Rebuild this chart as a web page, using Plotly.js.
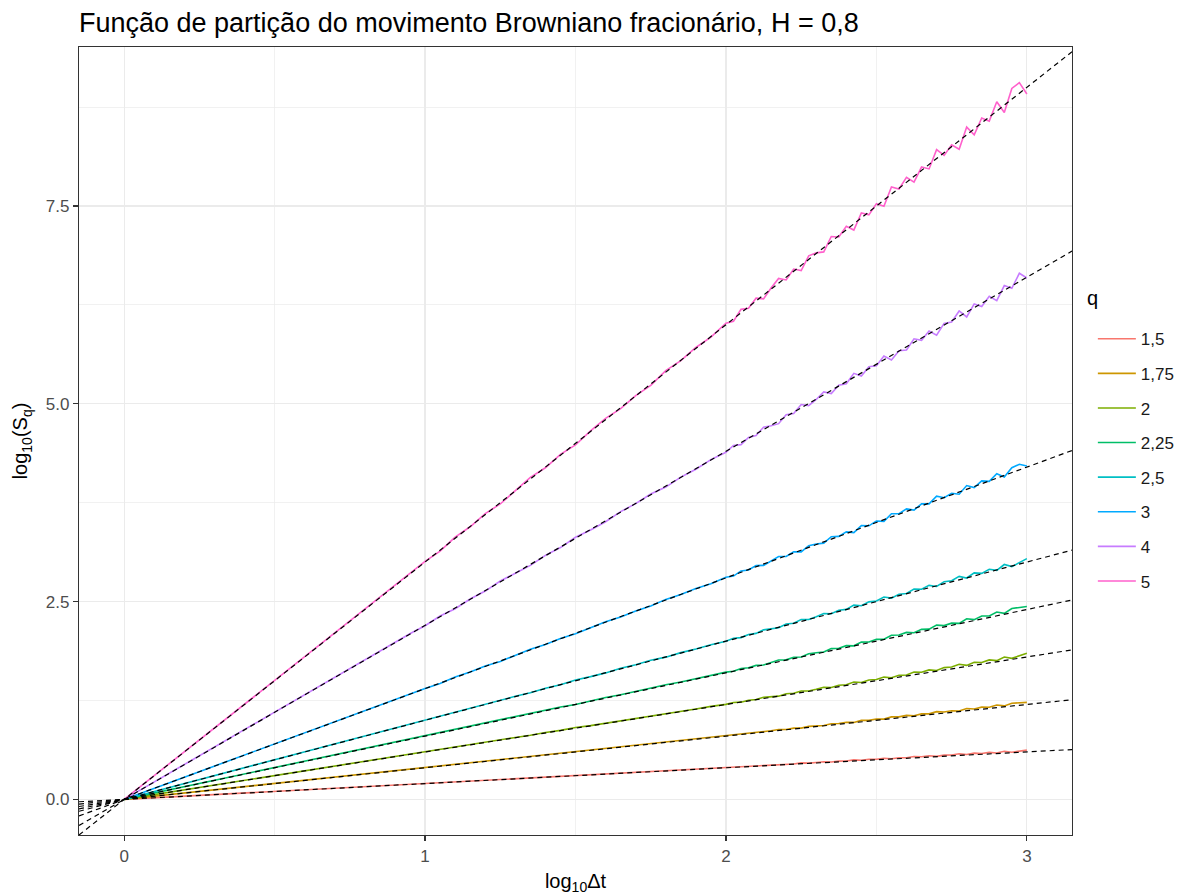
<!DOCTYPE html>
<html>
<head>
<meta charset="utf-8">
<script src="https://cdn.plot.ly/plotly-3.0.1.min.js"></script>
<style>
  html, body { margin: 0; padding: 0; background: #ffffff; }
  #chart { width: 1192px; height: 895px; }
</style>
</head>
<body>
<div id="chart"></div>
<script>
// log10 of the time lag Δt
const logDt = [
  0, 0.301, 0.477, 0.602, 0.699, 0.778, 0.845, 0.903, 0.954,
  1.0, 1.05, 1.1, 1.15, 1.2, 1.25, 1.3, 1.35, 1.4, 1.45,
  1.5, 1.55, 1.6, 1.65, 1.7, 1.75, 1.8, 1.85, 1.9, 1.95,
  2.0, 2.025, 2.05, 2.075, 2.1, 2.125, 2.15, 2.175, 2.2, 2.225,
  2.25, 2.275, 2.3, 2.325, 2.35, 2.375, 2.4, 2.425, 2.45, 2.475,
  2.5, 2.525, 2.55, 2.575, 2.6, 2.625, 2.65, 2.675, 2.7, 2.725,
  2.75, 2.775, 2.8, 2.825, 2.85, 2.875, 2.9, 2.925, 2.95, 2.975, 3.0
];

// Moment orders q (legend labels)
const qLabels = ['1,5', '1,75', '2', '2,25', '2,5', '3', '4', '5'];

// log10(S_q) for each q
const logSq_1_5 = [
  0, 0.061, 0.096, 0.121, 0.141, 0.157, 0.170, 0.182, 0.192,
  0.201, 0.213, 0.220, 0.232, 0.241, 0.254, 0.262, 0.270, 0.283, 0.291,
  0.304, 0.311, 0.320, 0.333, 0.342, 0.354, 0.360, 0.372, 0.381, 0.393,
  0.400, 0.410, 0.409, 0.419, 0.421, 0.433, 0.433, 0.435, 0.448, 0.448,
  0.461, 0.458, 0.466, 0.476, 0.472, 0.484, 0.485, 0.499, 0.494, 0.507,
  0.507, 0.521, 0.514, 0.526, 0.526, 0.542, 0.539, 0.551, 0.544, 0.560,
  0.562, 0.576, 0.567, 0.585, 0.580, 0.594, 0.587, 0.608, 0.597, 0.609, 0.623
];
const logSq_1_75 = [
  0, 0.121, 0.192, 0.242, 0.281, 0.313, 0.339, 0.363, 0.383,
  0.404, 0.421, 0.445, 0.462, 0.485, 0.501, 0.524, 0.546, 0.562, 0.585,
  0.600, 0.624, 0.645, 0.661, 0.684, 0.701, 0.726, 0.742, 0.765, 0.782,
  0.805, 0.810, 0.829, 0.833, 0.849, 0.850, 0.867, 0.883, 0.883, 0.901,
  0.901, 0.923, 0.930, 0.934, 0.957, 0.959, 0.976, 0.973, 0.999, 0.999,
  1.016, 1.015, 1.043, 1.043, 1.062, 1.058, 1.081, 1.081, 1.109, 1.104,
  1.120, 1.118, 1.149, 1.142, 1.166, 1.165, 1.193, 1.182, 1.216, 1.217, 1.226
];
const logSq_2 = [
  0, 0.183, 0.288, 0.364, 0.422, 0.470, 0.511, 0.546, 0.577,
  0.602, 0.636, 0.661, 0.695, 0.722, 0.757, 0.783, 0.810, 0.846, 0.872,
  0.908, 0.932, 0.961, 0.996, 1.023, 1.057, 1.080, 1.115, 1.142, 1.176,
  1.201, 1.225, 1.229, 1.254, 1.262, 1.290, 1.297, 1.305, 1.335, 1.342,
  1.371, 1.371, 1.392, 1.417, 1.415, 1.443, 1.450, 1.484, 1.478, 1.509,
  1.515, 1.546, 1.538, 1.568, 1.573, 1.609, 1.607, 1.637, 1.629, 1.666,
  1.673, 1.708, 1.694, 1.734, 1.730, 1.763, 1.754, 1.800, 1.783, 1.812, 1.846
];
const logSq_2_25 = [
  0, 0.243, 0.385, 0.486, 0.563, 0.627, 0.681, 0.729, 0.769,
  0.807, 0.842, 0.889, 0.924, 0.968, 1.001, 1.046, 1.090, 1.123, 1.168,
  1.200, 1.247, 1.289, 1.322, 1.366, 1.401, 1.450, 1.484, 1.528, 1.563,
  1.609, 1.619, 1.655, 1.664, 1.694, 1.699, 1.731, 1.761, 1.764, 1.796,
  1.799, 1.840, 1.854, 1.863, 1.906, 1.911, 1.943, 1.941, 1.988, 1.990,
  2.023, 2.024, 2.075, 2.078, 2.111, 2.107, 2.149, 2.152, 2.203, 2.197,
  2.228, 2.225, 2.283, 2.272, 2.318, 2.318, 2.369, 2.351, 2.413, 2.425, 2.438
];
const logSq_2_5 = [
  0, 0.302, 0.479, 0.605, 0.703, 0.783, 0.851, 0.910, 0.962,
  1.002, 1.058, 1.099, 1.155, 1.200, 1.259, 1.303, 1.348, 1.406, 1.450,
  1.510, 1.552, 1.599, 1.658, 1.703, 1.759, 1.798, 1.855, 1.900, 1.956,
  1.999, 2.037, 2.045, 2.085, 2.098, 2.143, 2.154, 2.169, 2.216, 2.227,
  2.274, 2.274, 2.308, 2.349, 2.346, 2.390, 2.402, 2.456, 2.448, 2.497,
  2.507, 2.558, 2.544, 2.593, 2.602, 2.659, 2.657, 2.705, 2.692, 2.752,
  2.764, 2.819, 2.798, 2.863, 2.857, 2.908, 2.895, 2.969, 2.942, 2.989, 3.043
];
const logSq_3 = [
  0, 0.423, 0.671, 0.846, 0.984, 1.093, 1.189, 1.268, 1.342,
  1.403, 1.466, 1.546, 1.609, 1.685, 1.744, 1.822, 1.898, 1.957, 2.035,
  2.093, 2.173, 2.246, 2.306, 2.382, 2.444, 2.528, 2.589, 2.665, 2.727,
  2.808, 2.823, 2.888, 2.899, 2.955, 2.958, 3.017, 3.070, 3.070, 3.129,
  3.129, 3.206, 3.228, 3.239, 3.320, 3.324, 3.382, 3.372, 3.460, 3.458,
  3.518, 3.514, 3.611, 3.610, 3.672, 3.657, 3.736, 3.735, 3.832, 3.813,
  3.870, 3.858, 3.967, 3.941, 4.026, 4.020, 4.116, 4.076, 4.193, 4.236, 4.215
];
const logSq_4 = [
  0, 0.665, 1.054, 1.330, 1.543, 1.719, 1.864, 1.995, 2.104,
  2.195, 2.318, 2.410, 2.533, 2.633, 2.760, 2.858, 2.958, 3.085, 3.183,
  3.313, 3.405, 3.510, 3.638, 3.738, 3.860, 3.948, 4.073, 4.173, 4.295,
  4.388, 4.474, 4.484, 4.575, 4.598, 4.705, 4.722, 4.749, 4.861, 4.878,
  4.991, 4.977, 5.055, 5.150, 5.129, 5.236, 5.253, 5.385, 5.350, 5.468,
  5.482, 5.604, 5.553, 5.671, 5.680, 5.822, 5.802, 5.920, 5.868, 6.017,
  6.035, 6.174, 6.098, 6.263, 6.229, 6.358, 6.304, 6.495, 6.460, 6.650, 6.590
];
const logSq_5 = [
  0, 0.906, 1.437, 1.812, 2.105, 2.341, 2.545, 2.716, 2.873,
  3.008, 3.138, 3.316, 3.446, 3.612, 3.734, 3.904, 4.070, 4.192, 4.362,
  4.480, 4.658, 4.816, 4.938, 5.104, 5.234, 5.420, 5.546, 5.712, 5.842,
  6.020, 6.044, 6.194, 6.208, 6.335, 6.326, 6.463, 6.584, 6.566, 6.703,
  6.685, 6.870, 6.908, 6.920, 7.115, 7.108, 7.243, 7.196, 7.413, 7.388,
  7.529, 7.497, 7.740, 7.715, 7.862, 7.801, 7.993, 7.969, 8.213, 8.140,
  8.274, 8.217, 8.498, 8.401, 8.613, 8.573, 8.818, 8.682, 8.986, 9.060, 8.916
];

// Fitted power-law lines: log10(S_q) = intercept + slope * log10(Δt)
const fitSlope = [0.2, 0.4, 0.6, 0.8, 1.0, 1.4, 2.2, 3.0];
const fitIntercept = [0, 0, 0, 0, 0, 0, 0, 0];

// Axis tick labels
const xTickVals = [0, 1, 2, 3];
const xTickText = ['0', '1', '2', '3'];
const yTickVals = [0, 2.5, 5, 7.5];
const yTickText = ['0.0', '2.5', '5.0', '7.5'];

const series = [logSq_1_5, logSq_1_75, logSq_2, logSq_2_25, logSq_2_5, logSq_3, logSq_4, logSq_5];
const palette = ['#F8766D', '#CD9600', '#7CAE00', '#00BE67', '#00BFC4', '#00A9FF', '#C77CFF', '#FF61CC'];

const xRange = [-0.15, 3.15];
const yRange = [-0.45, 9.51];

const traces = [];
series.forEach((ys, i) => {
  traces.push({
    type: 'scatter',
    mode: 'lines',
    x: logDt,
    y: ys,
    name: qLabels[i],
    legendgroup: 'q' + i,
    line: { color: palette[i], width: 1.6 },
    hoverinfo: 'x+y+name'
  });
});

// dashed reference lines across the whole panel
fitSlope.forEach((b, i) => {
  const a = fitIntercept[i];
  traces.push({
    type: 'scatter',
    mode: 'lines',
    x: xRange,
    y: xRange.map(x => a + b * x),
    showlegend: false,
    hoverinfo: 'skip',
    line: { color: '#000000', width: 1.2, dash: '5px,4px' }
  });
});

const gridCol = '#EBEBEB';
const borderCol = '#333333';
const tickFont = { family: 'Liberation Sans, Arial, sans-serif', size: 17, color: '#4D4D4D' };

const layout = {
  width: 1192,
  height: 895,
  paper_bgcolor: '#ffffff',
  plot_bgcolor: '#ffffff',
  margin: { l: 79, r: 117, t: 47, b: 60 },
  font: { family: 'Liberation Sans, Arial, sans-serif', color: '#000000' },
  title: {
    text: 'Função de partição do movimento Browniano fracionário, H = 0,8',
    font: { size: 27, color: '#000000' },
    xref: 'paper', x: 0, xanchor: 'left',
    yref: 'container', y: 0.975, yanchor: 'middle'
  },
  xaxis: {
    range: xRange,
    tickmode: 'array', tickvals: xTickVals, ticktext: xTickText,
    tickfont: tickFont,
    ticks: 'outside', ticklen: 5, tickwidth: 1.1, tickcolor: borderCol,
    showgrid: true, gridcolor: gridCol, gridwidth: 1.2,
    minor: { tickvals: [0.5, 1.5, 2.5], showgrid: true, gridcolor: gridCol, gridwidth: 0.7, ticks: '' },
    zeroline: false,
    showline: true, linecolor: borderCol, linewidth: 1.2, mirror: true,
    title: { text: 'log<sub>10</sub>Δt', font: { size: 20, color: '#000000' }, standoff: 9 }
  },
  yaxis: {
    range: yRange,
    tickmode: 'array', tickvals: yTickVals, ticktext: yTickText,
    tickfont: tickFont,
    ticks: 'outside', ticklen: 5, tickwidth: 1.1, tickcolor: borderCol,
    showgrid: true, gridcolor: gridCol, gridwidth: 1.2,
    minor: { tickvals: [1.25, 3.75, 6.25, 8.75], showgrid: true, gridcolor: gridCol, gridwidth: 0.7, ticks: '' },
    zeroline: false,
    showline: true, linecolor: borderCol, linewidth: 1.2, mirror: true,
    title: { text: 'log<sub>10</sub>(S<sub>q</sub>)', font: { size: 20, color: '#000000' }, standoff: 12 }
  },
  showlegend: true,
  legend: {
    x: 1.021, xanchor: 'left',
    y: 0.652, yanchor: 'top',
    bgcolor: 'rgba(0,0,0,0)',
    font: { size: 17, color: '#1A1A1A' },
    tracegroupgap: 9.5,
    itemwidth: 38
  },
  annotations: [{
    text: 'q',
    xref: 'paper', yref: 'paper',
    x: 1.013, xanchor: 'left',
    y: 0.681, yanchor: 'middle',
    showarrow: false,
    font: { size: 20, color: '#000000' }
  }]
};

Plotly.newPlot('chart', traces, layout, { displayModeBar: false, staticPlot: true });
</script>
</body>
</html>
